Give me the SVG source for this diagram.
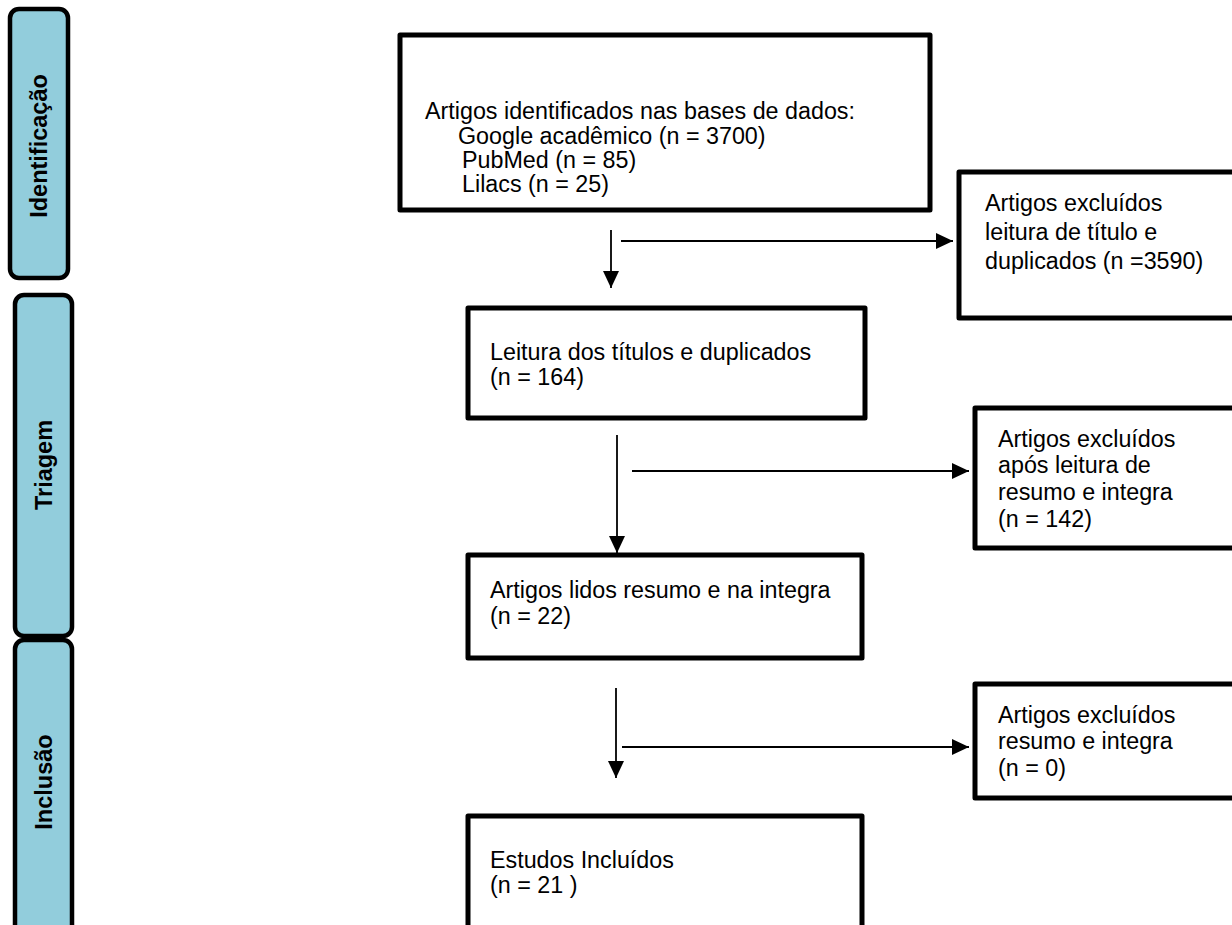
<svg xmlns="http://www.w3.org/2000/svg" width="1232" height="925" viewBox="0 0 1232 925">
<defs>
<style>
.box{fill:#fff;stroke:#000;stroke-width:5;stroke-linejoin:round}
.side{fill:#92CDDC;stroke:#000;stroke-width:4.5}
.t{font-family:"Liberation Sans",Arial,sans-serif;font-size:23.3px;fill:#000}
.lab{font-family:"Liberation Sans",Arial,sans-serif;font-size:23.5px;font-weight:bold;fill:#000;text-anchor:middle}
.c{stroke:#000;stroke-width:1.8;fill:none}
</style>
<marker id="ah" markerWidth="17" markerHeight="16" refX="17" refY="8" orient="auto" markerUnits="userSpaceOnUse">
<path d="M0,0 L17,8 L0,16 Z" fill="#000"/>
</marker>
</defs>
<rect width="1232" height="925" fill="#fff"/>

<g id="stage-identificacao">
<rect class="side" x="10" y="9" width="58" height="269" rx="9"/>
<text class="lab" transform="translate(47,146) rotate(-90)">Identificação</text>
</g>
<g id="stage-triagem">
<rect class="side" x="15" y="295" width="57" height="341" rx="9"/>
<text class="lab" transform="translate(52,465) rotate(-90)">Triagem</text>
</g>
<g id="stage-inclusao">
<rect class="side" x="15" y="640" width="57" height="300" rx="9"/>
<text class="lab" transform="translate(52,782) rotate(-90)">Inclusão</text>
</g>

<g id="connectors">
<line class="c" x1="611" y1="230" x2="611" y2="288" marker-end="url(#ah)"/>
<line class="c" x1="621" y1="241" x2="953" y2="241" marker-end="url(#ah)"/>
<line class="c" x1="617" y1="435" x2="617" y2="553" marker-end="url(#ah)"/>
<line class="c" x1="632" y1="471" x2="969" y2="471" marker-end="url(#ah)"/>
<line class="c" x1="616" y1="688" x2="616" y2="778" marker-end="url(#ah)"/>
<line class="c" x1="622" y1="747" x2="969" y2="747" marker-end="url(#ah)"/>
</g>

<g id="node-identificados">
<rect class="box" x="400" y="35" width="530" height="175"/>
<text class="t" x="425" y="119">Artigos identificados nas bases de dados:</text>
<text class="t" x="458" y="144">Google acadêmico (n = 3700)</text>
<text class="t" x="462" y="168">PubMed (n = 85)</text>
<text class="t" x="462" y="192">Lilacs (n = 25)</text>
</g>

<g id="node-excluidos-titulo">
<rect class="box" x="959" y="172" width="290" height="146"/>
<text class="t" x="985" y="211">Artigos excluídos</text>
<text class="t" x="985" y="240">leitura de título e</text>
<text class="t" x="985" y="269">duplicados (n =3590)</text>
</g>

<g id="node-leitura">
<rect class="box" x="468" y="308" width="397" height="110"/>
<text class="t" x="490" y="360">Leitura dos títulos e duplicados</text>
<text class="t" x="490" y="385">(n = 164)</text>
</g>

<g id="node-excluidos-resumo">
<rect class="box" x="975" y="408" width="270" height="140"/>
<text class="t" x="998" y="447">Artigos excluídos</text>
<text class="t" x="998" y="473">após leitura de</text>
<text class="t" x="998" y="500">resumo e integra</text>
<text class="t" x="998" y="527">(n = 142)</text>
</g>

<g id="node-lidos">
<rect class="box" x="468" y="555" width="394" height="103"/>
<text class="t" x="490" y="598">Artigos lidos resumo e na integra</text>
<text class="t" x="490" y="624">(n = 22)</text>
</g>

<g id="node-excluidos-0">
<rect class="box" x="975" y="684" width="270" height="114"/>
<text class="t" x="998" y="723">Artigos excluídos</text>
<text class="t" x="998" y="749">resumo e integra</text>
<text class="t" x="998" y="776">(n = 0)</text>
</g>

<g id="node-incluidos">
<rect class="box" x="468" y="816" width="394" height="130"/>
<text class="t" x="490" y="868">Estudos Incluídos</text>
<text class="t" x="490" y="893">(n = 21 )</text>
</g>
</svg>
